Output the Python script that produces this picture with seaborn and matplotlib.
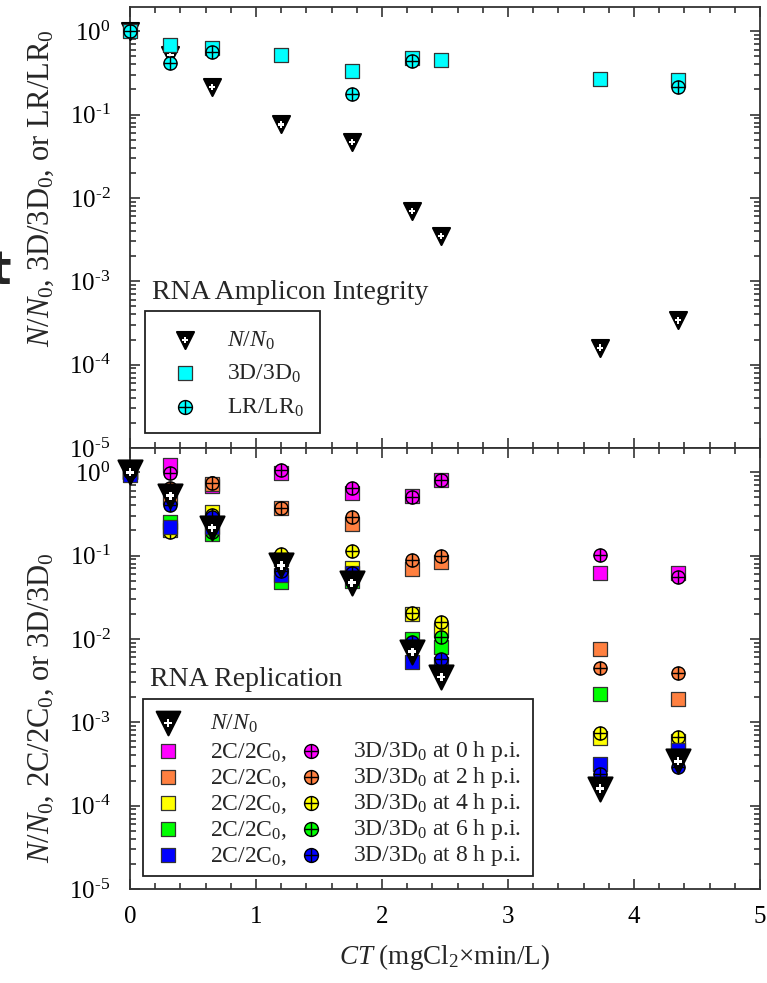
import numpy as np
import pandas as pd
import matplotlib
matplotlib.use("Agg")
import matplotlib.pyplot as plt
import seaborn as sns
from matplotlib.path import Path
from matplotlib.patches import Rectangle
from matplotlib.ticker import LogLocator, MultipleLocator, NullFormatter, FuncFormatter

# ---------------- data ----------------
CT = [0.0, 0.32, 0.65, 1.20, 1.76, 2.24, 2.47, 3.73, 4.35]
nan = np.nan
N_N0 = [1.0, 0.52, 0.215, 0.076, 0.047, 0.0070, 0.0035, 1.6e-4, 3.4e-4]

# RNA amplicon integrity (top panel)
top_3D = [1.0, 0.68, 0.62, 0.525, 0.333, 0.48, 0.45, 0.27, 0.257]
top_LR = [1.0, 0.41, 0.555, nan, 0.175, 0.437, nan, nan, 0.214]

# RNA replication (bottom panel)
hours = ["0", "2", "4", "6", "8"]
rep_2C = {
    "0": [1.0, 1.21, 0.68, 0.98, 0.56, 0.52, 0.81, 0.062, 0.061],
    "2": [1.0, 0.50, 0.72, 0.37, 0.24, 0.069, 0.083, 0.0075, 0.0019],
    "4": [1.0, 0.20, 0.33, 0.090, 0.071, 0.020, 0.0127, 6.4e-4, 6.0e-4],
    "6": [1.0, 0.25, 0.18, 0.048, 0.050, 0.010, 0.0080, 0.0022, nan],
    "8": [0.93, 0.22, 0.22, 0.058, 0.061, 0.0053, 0.0050, 3.2e-4, 4.6e-4],
}
rep_3D = {
    "0": [1.0, 0.98, 0.74, 1.07, 0.64, 0.50, 0.81, 0.102, 0.055],
    "2": [1.0, 0.64, 0.75, 0.37, 0.29, 0.089, 0.10, 0.0045, 0.0039],
    "4": [1.0, 0.19, 0.31, 0.105, 0.112, 0.0204, 0.016, 7.4e-4, 6.6e-4],
    "6": [1.0, 0.22, 0.19, 0.060, 0.050, 0.0090, 0.0105, nan, nan],
    "8": [1.0, 0.40, 0.29, 0.065, 0.061, 0.0092, 0.0058, 2.4e-4, 2.9e-4],
}
colors = {"0": "#FF00FF", "2": "#FF8040", "4": "#FFFF00", "6": "#00FF00", "8": "#0000FF"}
cyan = "#00FFFF"

# ---------------- style ----------------
sns.set_theme(style="ticks")
plt.rcParams['font.family'] = ['Liberation Serif', 'DejaVu Serif']
plt.rcParams['mathtext.fontset'] = 'custom'
plt.rcParams['mathtext.rm'] = 'Liberation Serif'
plt.rcParams['mathtext.it'] = 'Liberation Serif:italic'
plt.rcParams['mathtext.bf'] = 'Liberation Serif:bold'
plt.rcParams['axes.unicode_minus'] = False

# circle with a cross marker
circ = Path.unit_circle()
hl = Path([(-1, 0), (1, 0)], [Path.MOVETO, Path.LINETO])
vl = Path([(0, -1), (0, 1)], [Path.MOVETO, Path.LINETO])
CPLUS = Path.make_compound_path(circ, hl, vl)

W, H = 767, 983
fig = plt.figure(figsize=(W / 100, H / 100), dpi=100)
L, R = 130, 760
ax1 = fig.add_axes([L / W, 1 - 448 / H, (R - L) / W, 441 / H])
ax2 = fig.add_axes([L / W, 1 - 889 / H, (R - L) / W, 441 / H])


def sc(ax, y, marker, color, s, edge="black", lw=1.0):
    df = pd.DataFrame({"CT": CT, "v": y})
    sns.scatterplot(data=df, x="CT", y="v", ax=ax, marker=marker, color=color,
                    s=s, edgecolor=edge, linewidth=lw, legend=False,
                    clip_on=False, zorder=3)


# top panel
sc(ax1, N_N0, "v", "black", 150, edge="black", lw=1.5)
sc(ax1, N_N0, "P", "white", 22, edge="none", lw=0)
sc(ax1, top_3D, "s", cyan, 100, edge="#333333", lw=0.9)
sc(ax1, top_LR, CPLUS, cyan, 90, edge="black", lw=1.0)

# bottom panel
for h in hours:
    sc(ax2, rep_2C[h], "s", colors[h], 100, edge="#333333", lw=0.9)
    sc(ax2, rep_3D[h], CPLUS, colors[h], 90, edge="black", lw=1.0)
sc(ax2, N_N0, "v", "black", 300, edge="black", lw=1.5)
sc(ax2, N_N0, "P", "white", 36, edge="none", lw=0)


def log_fmt(v, pos):
    e = int(round(np.log10(v)))
    return r"$10^{\text{%d}}$" % e


for ax in (ax1, ax2):
    ax.set_yscale("log")
    ax.set_ylim(1e-5, 1.95)
    ax.set_xlim(0, 5)
    ax.yaxis.set_major_locator(LogLocator(base=10, numticks=10))
    ax.yaxis.set_major_formatter(FuncFormatter(log_fmt))
    ax.yaxis.set_minor_locator(LogLocator(base=10, subs=np.arange(2, 10), numticks=20))
    ax.yaxis.set_minor_formatter(NullFormatter())
    ax.xaxis.set_major_locator(MultipleLocator(1))
    ax.xaxis.set_minor_locator(MultipleLocator(0.2))
    ax.tick_params(which="both", direction="in", top=True, right=True,
                   width=1.2, colors="#333333", labelcolor="black", labelsize=18)
    ax.tick_params(which="major", length=7)
    ax.tick_params(which="minor", length=4)
    ax.tick_params(axis="y", pad=14)
    ax.tick_params(axis="x", pad=12)
    for sp in ax.spines.values():
        sp.set_linewidth(1.3)
        sp.set_color("#333333")
    ax.set_xlabel("")
    ax.set_ylabel("")

ax1.tick_params(axis="x", labelbottom=False)
ax1.set_ylabel("$N/N_0$, 3D/3D$_0$, or LR/LR$_0$", fontsize=22)
ax2.set_ylabel("$N/N_0$, 2C/2C$_0$, or 3D/3D$_0$", fontsize=22)
ax2.set_xlabel("$CT$ (mgCl$_2$\u00d7min/L)", fontsize=19.5, labelpad=10)
ax1.yaxis.set_label_coords(-0.117, (448 - 188) / 441)
ax2.yaxis.set_label_coords(-0.117, (889 - 708) / 441)


def fx(px):
    return (px - L) / (R - L)


def fy(py, base):
    return (base - py) / 441.0


def lg_marker(ax, px, py, base, marker, color, s, edge, lw):
    ax.scatter([fx(px)], [fy(py, base)], transform=ax.transAxes, marker=marker,
               s=s, c=color, edgecolors=edge, linewidths=lw, clip_on=False, zorder=6)


def lg_text(ax, px, py, base, txt, size=17):
    ax.text(fx(px), fy(py + 6.5, base), txt, transform=ax.transAxes,
            fontsize=size, ha="left", va="baseline", zorder=6)


# top legend
b = 448
ax1.text(fx(152), fy(292, b), "RNA Amplicon Integrity", transform=ax1.transAxes,
         fontsize=20, ha="left", va="center")
ax1.add_patch(Rectangle((fx(145), fy(433, b)), fx(320) - fx(145), fy(311, b) - fy(433, b),
                        transform=ax1.transAxes, facecolor="white", edgecolor="#222222",
                        lw=1.3, zorder=5))
lg_marker(ax1, 185, 340, b, "v", "black", 150, "black", 1.5)
lg_marker(ax1, 185, 340, b, "P", "white", 22, "none", 0)
lg_text(ax1, 227, 340, b, "$N/N_0$")
lg_marker(ax1, 185, 373, b, "s", cyan, 110, "#333333", 0.9)
lg_text(ax1, 227, 373, b, "3D/3D$_0$")
lg_marker(ax1, 185, 407, b, CPLUS, cyan, 100, "black", 1.0)
lg_text(ax1, 227, 407, b, "LR/LR$_0$")

# bottom legend
b = 889
ax2.text(fx(150), fy(680, b), "RNA Replication", transform=ax2.transAxes,
         fontsize=20, ha="left", va="center")
ax2.add_patch(Rectangle((fx(143), fy(876, b)), fx(533) - fx(143), fy(699, b) - fy(876, b),
                        transform=ax2.transAxes, facecolor="white", edgecolor="#222222",
                        lw=1.3, zorder=5))
lg_marker(ax2, 168, 723, b, "v", "black", 290, "black", 1.5)
lg_marker(ax2, 168, 723, b, "P", "white", 34, "none", 0)
lg_text(ax2, 210, 723, b, "$N/N_0$")
rows_y = [751, 777, 803, 829, 855]
for h, yy in zip(hours, rows_y):
    lg_marker(ax2, 168, yy, b, "s", colors[h], 110, "#333333", 0.9)
    lg_text(ax2, 210, yy, b, "2C/2C$_0$,")
    lg_marker(ax2, 311, yy, b, CPLUS, colors[h], 100, "black", 1.0)
    lg_text(ax2, 353, yy, b, "3D/3D$_0$ at %s h p.i." % h)

# stray glyph at the left edge of the reference
fig.text(0.0, 1 - 272 / H, "t", fontsize=34, family="DejaVu Sans",
         fontweight="bold", ha="center", va="center")

fig.savefig("out.png", dpi=100)
